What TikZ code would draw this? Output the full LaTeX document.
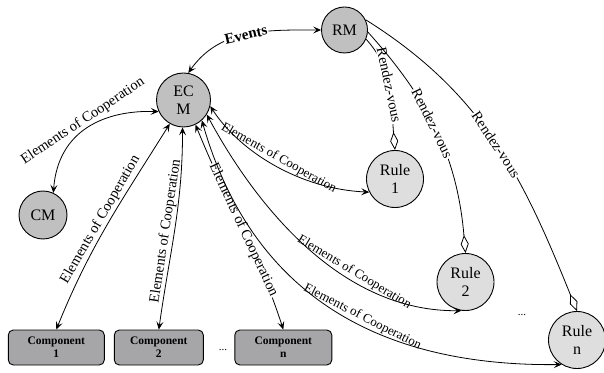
\documentclass[tikz,border=0pt]{standalone}
\usepackage{fontspec}
\setmainfont{Liberation Serif}
\usetikzlibrary{arrows.meta}
\definecolor{mgrfill}{HTML}{C0C0C0}
\definecolor{rulefill}{HTML}{DEDEDE}
\definecolor{compfill}{HTML}{A6A6A8}
\begin{document}
\begin{tikzpicture}[x=1pt,y=1pt,
  mgr/.style={circle, draw, line width=0.9pt, fill=mgrfill, inner sep=0pt,
    font=\fontsize{16}{18}\selectfont, align=center},
  rulenode/.style={circle, draw, line width=0.9pt, fill=rulefill, inner sep=0pt,
    minimum size=57pt, font=\fontsize{16}{18}\selectfont, align=center},
  comp/.style={draw, line width=0.9pt, fill=compfill, rounded corners=5pt,
    minimum height=35pt, inner sep=0pt,
    font=\fontsize{11.5}{13}\selectfont\bfseries, align=center},
  tip/.tip={Stealth[length=8pt,width=7pt,inset=3.5pt]},
  coop/.style={line width=0.8pt, tip-tip},
  rdv/.style={line width=0.8pt, -{Diamond[open,length=18pt,width=8pt]}},
  lab/.style={sloped, font=\fontsize{14.5}{16}\selectfont, inner sep=1.5pt},
  smalllab/.style={sloped, font=\fontsize{13}{15}\selectfont, inner sep=1.5pt},
  inl/.style={fill=white, inner sep=1pt}
]
\useasboundingbox (0,0) rectangle (604,372);

% managers
\node[mgr, minimum size=54pt] (ECM) at (183.5,272) {EC\\M};
\node[mgr, minimum size=46pt] (RM)  at (344.5,342) {RM};
\node[mgr, minimum size=48pt] (CM)  at (43,157) {CM};

% rules
\node[rulenode] (Rule1) at (395,193) {Rule\\1};
\node[rulenode] (Rule2) at (465.5,90) {Rule\\2};
\node[rulenode] (Rulen) at (577,32) {Rule\\n};
\node[font=\fontsize{11}{12}\selectfont] (rdots) at (522,57) {...};

% components
\node[comp, minimum width=96pt] (Comp1) at (56.3,24.5) {Component\\1};
\node[comp, minimum width=89pt] (Comp2) at (158.8,24.5) {Component\\2};
\node[comp, minimum width=97pt] (Compn) at (283.3,24.5) {Component\\n};
\node[font=\fontsize{11}{12}\selectfont] (cdots) at (223,22) {...};

% events between the managers
\draw[coop] (ECM.80) to[out=55,in=180]
  node[pos=.5, sloped, inl, font=\fontsize{15}{16}\selectfont\bfseries] {Events} (RM.west);

% elements of cooperation
\draw[coop] (CM.65) .. controls (58,242) and (105,262) ..
  node[lab, above, pos=.5] {Elements of Cooperation} (ECM.205);
\draw[coop] (Comp1.north) to[out=68,in=238]
  node[lab, above, pos=.5] {Elements of Cooperation} (ECM.240);
\draw[coop] (Comp2.north) to[out=82,in=270]
  node[lab, above, pos=.48] {Elements of Cooperation} (ECM.268);
\draw[coop] (ECM.-64) to[out=-68,in=108]
  node[lab, inl, pos=.52] {Elements of Cooperation} (Compn.north);
\draw[coop] (ECM.-13) .. controls (240,220) and (300,183) ..
  node[smalllab, above, pos=.5] {Elements of Cooperation} (Rule1.207);
\draw[coop] (ECM.-32) .. controls (255,168) and (340,60) ..
  node[smalllab, above, pos=.66] {Elements of Cooperation} (Rule2.262);
\draw[coop] (ECM.-48) .. controls (242,112) and (340,5) ..
  node[smalllab, above, pos=.62] {Elements of Cooperation} (Rulen.238);

% rendez-vous links
\draw[rdv] (RM.-23) to[out=-48,in=95]
  node[lab, inl, pos=.45] {Rendez-vous} (Rule1.north);
\draw[rdv] (RM.-5) to[out=-48,in=95]
  node[lab, inl, pos=.45] {Rendez-vous} (Rule2.north);
\draw[rdv] (RM.26) to[out=-32,in=112]
  node[lab, inl, pos=.5] {Rendez-vous} (Rulen.north);
\end{tikzpicture}
\end{document}
